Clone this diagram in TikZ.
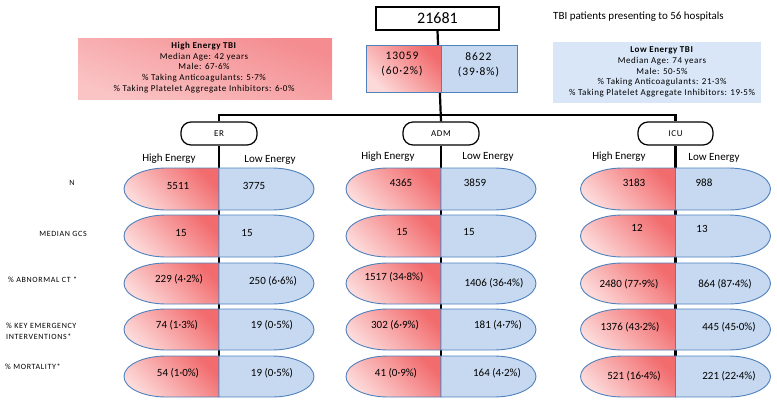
\documentclass[tikz,border=0pt]{standalone}
\usepackage{fontspec}
\setmainfont{Carlito}
\newfontfamily\spacedfont[LetterSpace=8]{Carlito}
\newfontfamily\infofont[LetterSpace=6]{Carlito}
\pgfdeclarelayer{bg}
\pgfsetlayers{bg,main}
\definecolor{rdark}{RGB}{242,108,110}
\definecolor{rlight}{RGB}{253,218,218}
\definecolor{bfill}{RGB}{198,217,240}
\definecolor{bedge}{RGB}{79,129,189}
\definecolor{infordark}{RGB}{244,140,144}
\definecolor{inforlight}{RGB}{250,195,196}
\definecolor{infob}{RGB}{216,230,248}
\tikzset{
  redhalf/.style={draw=bedge, line width=0.9pt, top color=rdark, bottom color=rlight, shading angle=-45},
  bluehalf/.style={draw=bedge, line width=0.9pt, fill=bfill},
  conn/.style={draw=black, line width=2.2pt},
  colbox/.style={draw=black, line width=1.2pt, fill=white, rounded corners=10pt, minimum height=23pt, inner sep=0pt, font=\spacedfont\fontsize{9}{10}\selectfont},
  val/.style={font=\fontsize{11}{12}\selectfont, inner sep=0pt},
  hdr/.style={font=\fontsize{11}{12}\selectfont, inner sep=0pt},
  rowlbl/.style={font=\spacedfont\fontsize{8}{11}\selectfont, inner sep=0pt, align=left},
  infotext/.style={font=\infofont\fontsize{9}{10.7}\selectfont, align=center, inner sep=0pt}
}
\newcommand{\mypill}[3]{%
  \pgfmathsetmacro\pry{(#3-#2)/2}%
  \path[redhalf] (#1,#2) -- ({#1-53},#2) arc[start angle=270,end angle=90,x radius=42,y radius=\pry] -- (#1,#3) -- cycle;
  \path[bluehalf] (#1,#2) -- ({#1+53},#2) arc[start angle=270,end angle=450,x radius=42,y radius=\pry] -- (#1,#3) -- cycle;
}
\begin{document}
\begin{tikzpicture}[x=1pt,y=-1pt]
\useasboundingbox (0,0) rectangle (777,402);

% top
\node[draw=black, line width=1.3pt, fill=white, minimum width=123pt, minimum height=23pt, inner sep=0pt,
      font=\fontsize{16}{18}\selectfont] (total) at (437.5,18.5) {21681};
\node[anchor=west, inner sep=0pt, font=\fontsize{11}{12}\selectfont] (title) at (553,17) {TBI patients presenting to 56 hospitals};

\node[draw=bedge, line width=1pt, top color=rdark, bottom color=rlight, shading angle=-45,
      minimum width=75pt, minimum height=47pt, inner sep=0pt] (hisplit) at (403.5,68.5) {};
\node[draw=bedge, line width=1pt, fill=bfill, minimum width=76pt, minimum height=47pt, inner sep=0pt] (losplit) at (479,68.5) {};
\node[val, font=\spacedfont\fontsize{11.5}{15}\selectfont, align=center] (hisplitt) at (402,64.5) {13059\\(60·2\%)};
\node[val, font=\spacedfont\fontsize{11.5}{15}\selectfont, align=center] (losplitt) at (478.5,64.5) {8622\\(39·8\%)};

\node[top color=infordark, bottom color=inforlight, shading angle=-20, minimum width=254pt, minimum height=61pt, inner sep=0pt] (hibox) at (205,68.5) {};
\node[infotext] (hiboxt) at (204,67.5) {\textbf{High Energy TBI}\\Median Age: 42 years\\Male: 67·6\%\\\% Taking Anticoagulants: 5·7\%\\\% Taking Platelet Aggregate Inhibitors: 6·0\%};

\node[fill=infob, minimum width=208pt, minimum height=61pt, inner sep=0pt] (lobox) at (657,72.5) {};
\node[infotext] (loboxt) at (662,72) {\textbf{Low Energy TBI}\\Median Age: 74 years\\Male: 50·5\%\\\% Taking Anticoagulants: 21·3\%\\\% Taking Platelet Aggregate Inhibitors: 19·5\%};

% column boxes
\node[colbox, minimum width=76pt] (erbox) at (219,133.5) {ER};
\node[colbox, minimum width=76pt] (admbox) at (441,133.5) {ADM};
\node[colbox, minimum width=75pt] (icubox) at (675.5,133.5) {ICU};

\coordinate (hub) at (441,115);
\coordinate (erend) at (219,357);
\coordinate (admend) at (441,357);
\coordinate (icuend) at (675.5,357);
\begin{pgfonlayer}{bg}
\draw[conn] (total.south) -- (admbox.north);
\draw[conn] (erbox.north) |- (hub) -| (icubox.north);
\draw[conn] (erbox.south) -- (erend);
\draw[conn] (admbox.south) -- (admend);
\draw[conn] (icubox.south) -- (icuend);
\end{pgfonlayer}

% headers
\node[hdr] (erhi) at (169,159) {High Energy};
\node[hdr] (erlo) at (270,160) {Low Energy};
\node[hdr] (admhi) at (388,157) {High Energy};
\node[hdr] (admlo) at (488,157) {Low Energy};
\node[hdr] (icuhi) at (619,157) {High Energy};
\node[hdr] (iculo) at (714,158) {Low Energy};

% pills
\foreach \cx in {219,441,675.5}{
  \mypill{\cx}{168}{210}
  \mypill{\cx}{215}{257}
  \mypill{\cx}{263}{304}
  \mypill{\cx}{309}{350}
  \mypill{\cx}{356}{397}
}

% row labels
\node[rowlbl] (lN) at (72,183) {N};
\node[rowlbl] (lGCS) at (63,234) {MEDIAN GCS};
\node[rowlbl, anchor=west] (lCT) at (8,280) {\% ABNORMAL CT *};
\node[rowlbl, anchor=west] (lKEY) at (6,331.5) {\% KEY EMERGENCY\\INTERVENTIONS*};
\node[rowlbl, anchor=west] (lMORT) at (5,367) {\% MORTALITY*};

% ER values
\node[val] (e1h) at (178,186) {5511};
\node[val] (e1l) at (254,186) {3775};
\node[val] (e2h) at (181,233) {15};
\node[val] (e2l) at (247,233) {15};
\node[val] (e3h) at (179,279) {229 (4·2\%)};
\node[val] (e3l) at (273,281) {250 (6·6\%)};
\node[val] (e4h) at (177,325) {74 (1·3\%)};
\node[val] (e4l) at (272,325) {19 (0·5\%)};
\node[val] (e5h) at (178,373) {54 (1·0\%)};
\node[val] (e5l) at (272,373) {19 (0·5\%)};

% ADM values
\node[val] (a1h) at (401,183) {4365};
\node[val] (a1l) at (475,183) {3859};
\node[val] (a2h) at (402,232) {15};
\node[val] (a2l) at (469,232) {15};
\node[val] (a3h) at (394,277) {1517 (34·8\%)};
\node[val] (a3l) at (494,283) {1406 (36·4\%)};
\node[val] (a4h) at (395,325) {302 (6·9\%)};
\node[val] (a4l) at (498,325) {181 (4·7\%)};
\node[val] (a5h) at (396,373) {41 (0·9\%)};
\node[val] (a5l) at (497,373) {164 (4·2\%)};

% ICU values
\node[val] (i1h) at (634,183) {3183};
\node[val] (i1l) at (704,183) {988};
\node[val] (i2h) at (637,228) {12};
\node[val] (i2l) at (702,229) {13};
\node[val] (i3h) at (629,284) {2480 (77·9\%)};
\node[val] (i3l) at (725,284) {864 (87·4\%)};
\node[val] (i4h) at (630,327) {1376 (43·2\%)};
\node[val] (i4l) at (729,327) {445 (45·0\%)};
\node[val] (i5h) at (634,376) {521 (16·4\%)};
\node[val] (i5l) at (729,376) {221 (22·4\%)};
\end{tikzpicture}
\end{document}
